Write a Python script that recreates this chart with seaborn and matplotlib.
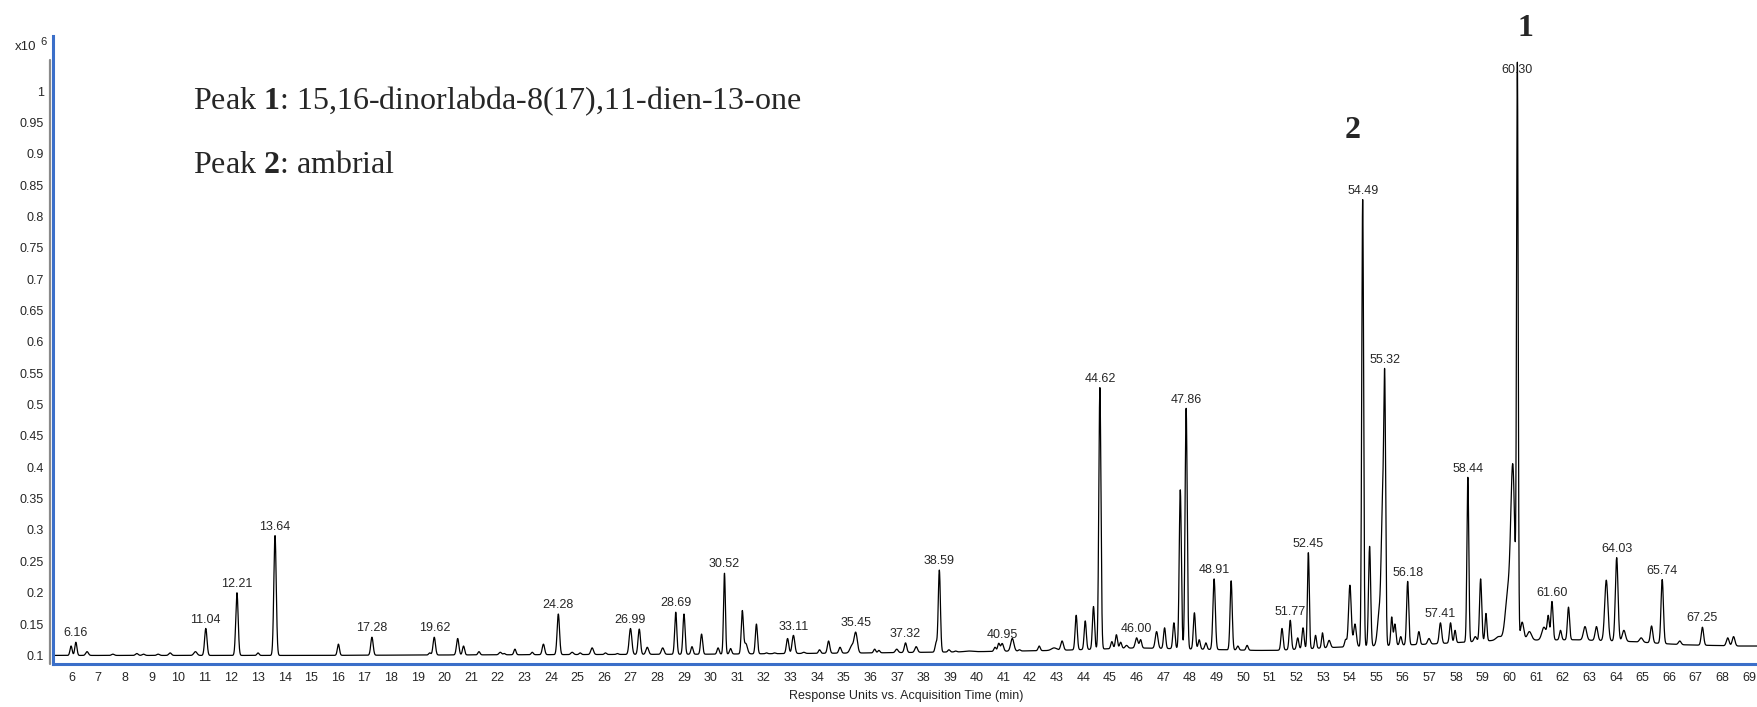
import numpy as np
import pandas as pd
import matplotlib
matplotlib.use("Agg")
import matplotlib.pyplot as plt
import seaborn as sns
from matplotlib import font_manager

# peaks: retention time (min), apex response (x10^6), peak width (min)
peak_rt = [5.98, 6.16, 6.58, 7.55, 8.45, 8.70, 9.25, 9.70, 10.65, 11.04,
           12.21, 13.00, 13.64, 16.02, 17.28, 19.45, 19.62, 20.50, 20.72, 21.30,
           22.10, 22.25, 22.65, 23.30, 23.72, 24.28, 24.80, 25.10, 25.55, 26.05,
           26.50, 26.99, 27.32, 27.62, 28.20, 28.69, 29.00, 29.30, 29.66, 30.28,
           30.52, 30.75, 31.19, 31.32, 31.72, 32.10, 32.40, 32.89, 33.11, 33.50,
           34.09, 34.43, 34.86, 35.30, 35.45, 36.16, 36.32, 36.99, 37.32, 37.72,
           38.47, 38.59, 38.95, 39.20, 39.70, 40.68, 40.82, 40.95, 41.33, 41.60,
           42.34, 42.90, 43.20, 43.73, 44.07, 44.38, 44.62, 45.07, 45.24, 45.40,
           45.62, 46.00, 46.15, 46.75, 47.05, 47.40, 47.64, 47.86, 48.17, 48.35,
           48.60, 48.91, 49.55, 49.80, 50.15, 51.46, 51.77, 52.05, 52.25, 52.45,
           52.72, 52.98, 53.23, 53.85, 54.01, 54.20, 54.49, 54.75, 55.12, 55.24,
           55.32, 55.58, 55.70, 55.92, 56.18, 56.60, 56.98, 57.41, 57.79, 57.96,
           58.44, 58.72, 58.92, 59.12, 59.60, 59.95, 60.13, 60.30, 60.48, 60.75,
           61.30, 61.46, 61.60, 61.92, 62.22, 62.84, 63.27, 63.64, 64.03, 64.30,
           64.95, 65.34, 65.74, 66.40, 67.25, 68.20, 68.42]
peak_height = [0.115, 0.121, 0.106, 0.102, 0.103, 0.102, 0.102, 0.104, 0.106, 0.143,
               0.200, 0.104, 0.291, 0.118, 0.129, 0.104, 0.129, 0.127, 0.115, 0.106,
               0.105, 0.103, 0.110, 0.105, 0.118, 0.166, 0.105, 0.104, 0.112, 0.104,
               0.103, 0.143, 0.142, 0.113, 0.112, 0.169, 0.166, 0.114, 0.134, 0.112,
               0.231, 0.111, 0.170, 0.119, 0.150, 0.104, 0.104, 0.127, 0.132, 0.105,
               0.109, 0.123, 0.113, 0.115, 0.136, 0.110, 0.108, 0.110, 0.120, 0.114,
               0.120, 0.236, 0.109, 0.107, 0.107, 0.113, 0.119, 0.119, 0.127, 0.109,
               0.115, 0.112, 0.123, 0.164, 0.155, 0.178, 0.527, 0.122, 0.133, 0.121,
               0.116, 0.128, 0.125, 0.138, 0.144, 0.152, 0.364, 0.494, 0.168, 0.125,
               0.120, 0.222, 0.219, 0.115, 0.116, 0.143, 0.156, 0.128, 0.144, 0.264,
               0.132, 0.136, 0.124, 0.125, 0.212, 0.150, 0.828, 0.274, 0.170, 0.330,
               0.490, 0.161, 0.150, 0.130, 0.218, 0.138, 0.127, 0.152, 0.152, 0.140,
               0.384, 0.130, 0.222, 0.167, 0.130, 0.200, 0.390, 1.025, 0.153, 0.138,
               0.145, 0.161, 0.186, 0.140, 0.177, 0.146, 0.146, 0.220, 0.256, 0.140,
               0.128, 0.147, 0.221, 0.123, 0.145, 0.128, 0.130]
peak_width = [0.04, 0.04, 0.05, 0.05, 0.05, 0.05, 0.05, 0.05, 0.06, 0.045,
              0.045, 0.04, 0.045, 0.04, 0.045, 0.04, 0.045, 0.045, 0.04, 0.04,
              0.05, 0.04, 0.04, 0.04, 0.045, 0.045, 0.05, 0.04, 0.05, 0.04,
              0.04, 0.05, 0.045, 0.05, 0.05, 0.04, 0.04, 0.04, 0.04, 0.04,
              0.035, 0.04, 0.04, 0.06, 0.04, 0.04, 0.04, 0.045, 0.05, 0.05,
              0.04, 0.045, 0.045, 0.07, 0.06, 0.04, 0.04, 0.05, 0.045, 0.05,
              0.04, 0.04, 0.04, 0.04, 0.15, 0.04, 0.04, 0.05, 0.06, 0.04,
              0.04, 0.10, 0.05, 0.04, 0.04, 0.04, 0.04, 0.04, 0.04, 0.04,
              0.05, 0.05, 0.04, 0.05, 0.04, 0.04, 0.04, 0.04, 0.04, 0.04,
              0.04, 0.045, 0.04, 0.04, 0.04, 0.04, 0.04, 0.04, 0.04, 0.035,
              0.035, 0.035, 0.05, 0.04, 0.05, 0.05, 0.035, 0.04, 0.07, 0.05,
              0.035, 0.035, 0.04, 0.04, 0.04, 0.04, 0.05, 0.045, 0.04, 0.035,
              0.035, 0.05, 0.04, 0.035, 0.10, 0.10, 0.075, 0.03, 0.06, 0.08,
              0.08, 0.04, 0.04, 0.04, 0.04, 0.06, 0.05, 0.06, 0.05, 0.06,
              0.06, 0.045, 0.045, 0.05, 0.045, 0.05, 0.05]

# slow baseline drift
base_rt = [5.3, 15, 22, 30, 36, 40, 43, 46, 50.5, 51.2, 53.5, 57, 59.5, 62.5, 64.6, 66.5, 68.6, 69.3]
base_level = [0.100, 0.100, 0.101, 0.102, 0.104, 0.106, 0.108, 0.112, 0.108, 0.108,
              0.113, 0.118, 0.124, 0.125, 0.122, 0.117, 0.115, 0.115]

label_rt = [6.16, 11.04, 12.21, 13.64, 17.28, 19.62, 24.28, 26.99, 28.69, 30.52,
            33.11, 35.45, 37.32, 38.59, 40.95, 44.62, 46.00, 47.86, 48.91, 51.77,
            52.45, 54.49, 55.32, 56.18, 57.41, 58.44, 60.30, 61.60, 64.03, 65.74, 67.25]

time = np.arange(5.3, 69.31, 0.004)
signal = np.interp(time, base_rt, base_level)
for rt, h, w in zip(peak_rt, peak_height, peak_width):
    amp = h - np.interp(rt, base_rt, base_level)
    signal = signal + amp * np.exp(-0.5 * ((time - rt) / w) ** 2)
df = pd.DataFrame({"time": time, "response": signal})

sns.set_style("white")
installed = {f.name for f in font_manager.fontManager.ttflist}
sans = "Liberation Sans Narrow" if "Liberation Sans Narrow" in installed else "Liberation Sans"
fs = 10 if sans == "Liberation Sans Narrow" else 9
plt.rcParams["font.family"] = [sans, "DejaVu Sans"]
plt.rcParams["mathtext.fontset"] = "custom"
plt.rcParams["mathtext.rm"] = "Liberation Serif"
plt.rcParams["mathtext.bf"] = "Liberation Serif:bold"

blue = "#3b6fc9"
fig = plt.figure(figsize=(17.57, 7.07), dpi=100)
ax = fig.add_axes([0.030, 0.0608, 0.970, 0.888])

sns.lineplot(data=df, x="time", y="response", color="black", lw=0.9,
             estimator=None, sort=False, ax=ax)

ax.set_xlim(5.29, 69.3)
ax.set_ylim(0.0863, 1.0874)
ax.set_xticks(range(6, 70))
yt = np.round(np.arange(0.1, 1.001, 0.05), 2)
ax.set_yticks(yt)
ax.set_yticklabels([f"{v:g}" for v in yt])
ax.tick_params(axis="both", labelsize=fs, direction="out", length=3.5, width=0.9,
               color="#333333", pad=2.5)
ax.tick_params(axis="y", pad=3)
ax.set_xlabel("")
ax.set_ylabel("")
for side in ["top", "right"]:
    ax.spines[side].set_visible(False)
for side in ["left", "bottom"]:
    ax.spines[side].set_color(blue)
    ax.spines[side].set_linewidth(2.2)
# grey bar beside the y axis
ax.plot([-0.0013, -0.0013], [0, 0.962], transform=ax.transAxes, clip_on=False,
        color="#8a8a8a", lw=1.6)

for rt in label_rt:
    near = df[(df.time > rt - 0.04) & (df.time < rt + 0.04)]
    top = near.response.max()
    if top > 1.0:
        # the tallest peak runs through its own label, as in the instrument print-out
        ax.annotate(f"{rt:.2f}", (rt, top), xytext=(0, -1.5), textcoords="offset points",
                    ha="center", va="top", fontsize=fs)
    else:
        ax.annotate(f"{rt:.2f}", (rt, top), xytext=(0, 2), textcoords="offset points",
                    ha="center", va="bottom", fontsize=fs)

fig.text(0.0085, 0.934, "x10", fontsize=fs + 0.5, va="center")
fig.text(0.0232, 0.941, "6", fontsize=fs - 1, va="center")
fig.text(0.516, 0.016, "Response Units vs. Acquisition Time (min)", fontsize=fs,
         ha="center", va="center")

fig.text(0.110, 0.857, r"Peak $\mathbf{1}$: 15,16-dinorlabda-8(17),11-dien-13-one",
         family="Liberation Serif", fontsize=23, va="center")
fig.text(0.110, 0.766, r"Peak $\mathbf{2}$: ambrial",
         family="Liberation Serif", fontsize=23, va="center")
fig.text(0.868, 0.960, "1", family="Liberation Serif", fontweight="bold",
         fontsize=23, ha="center", va="center")
fig.text(0.770, 0.816, "2", family="Liberation Serif", fontweight="bold",
         fontsize=23, ha="center", va="center")

fig.savefig("out.png", dpi=100)
